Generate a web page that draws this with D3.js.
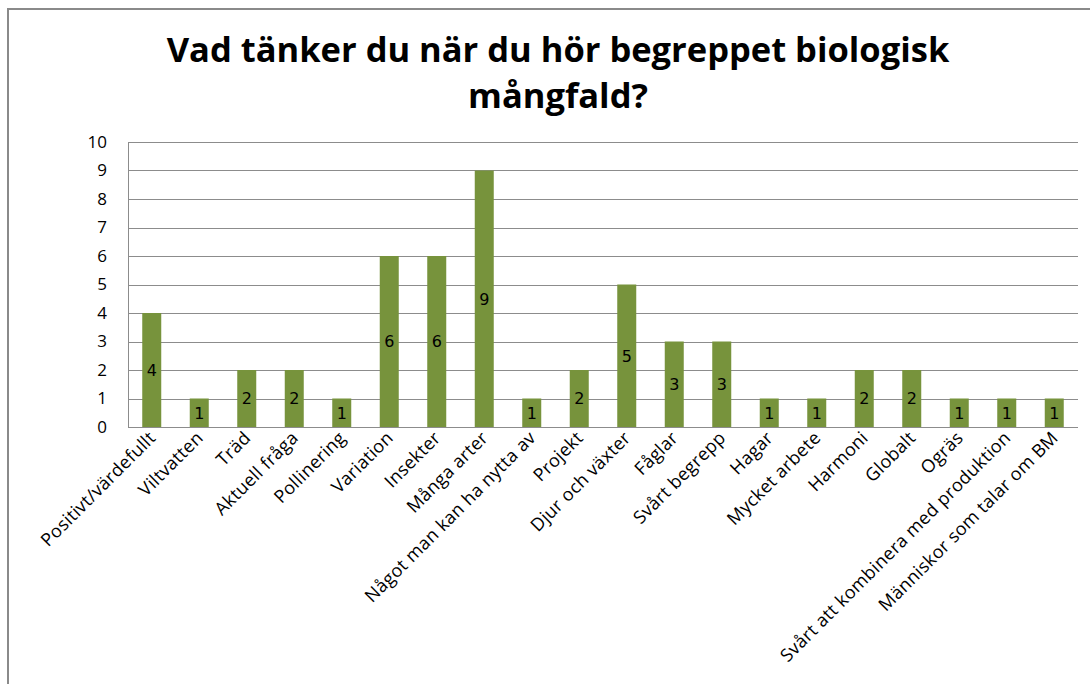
<!DOCTYPE html>
<html>
<head>
<meta charset="utf-8">
<script src="https://cdn.jsdelivr.net/npm/d3@7"></script>
<style>
  body { margin: 0; background: #fff; }
  svg { display: block; }
  .axis text { font-family: "Open Sans", sans-serif; fill: #000; }
</style>
</head>
<body>
<div id="chart"></div>
<script>
// chart data
const categories = [
  'Positivt/värdefullt', 'Viltvatten', 'Träd', 'Aktuell fråga', 'Pollinering',
  'Variation', 'Insekter', 'Många arter', 'Något man kan ha nytta av', 'Projekt',
  'Djur och växter', 'Fåglar', 'Svårt begrepp', 'Hagar', 'Mycket arbete',
  'Harmoni', 'Globalt', 'Ogräs', 'Svårt att kombinera med produktion', 'Människor som talar om BM'
];
const values = [4, 1, 2, 2, 1, 6, 6, 9, 1, 2, 5, 3, 3, 1, 1, 2, 2, 1, 1, 1];
const yTicks = [0, 1, 2, 3, 4, 5, 6, 7, 8, 9, 10];
const titleLines = ['Vad tänker du när du hör begreppet biologisk', 'mångfald?'];

(function(d3) {
  const W = 1090, H = 684;
  const margin = { top: 142, right: 12, bottom: 257, left: 128 };
  const width = W - margin.left - margin.right;
  const height = H - margin.top - margin.bottom;

  const svg = d3.select('#chart').append('svg')
    .attr('width', W)
    .attr('height', H);

  // outer frame
  svg.append('rect')
    .attr('x', 8).attr('y', 9)
    .attr('width', W + 20).attr('height', H + 20)
    .attr('fill', 'none')
    .attr('stroke', '#8a8a8a')
    .attr('stroke-width', 2);

  // title
  const title = svg.append('text')
    .attr('text-anchor', 'middle')
    .style('font-family', '"Open Sans", sans-serif')
    .style('font-weight', 'bold')
    .style('font-size', '34.5px')
    .attr('fill', '#000');
  title.selectAll('tspan')
    .data(titleLines)
    .enter()
    .append('tspan')
    .attr('x', 558)
    .attr('y', (d, i) => 62 + i * 46)
    .text(d => d);

  const g = svg.append('g').attr('transform', `translate(${margin.left},${margin.top})`);

  const x = d3.scaleBand().domain(categories).range([0, width]).paddingInner(0.6).paddingOuter(0.3);
  const y = d3.scaleLinear().domain([0, 10]).range([height, 0]);

  // gridlines
  g.append('g')
    .selectAll('line')
    .data(yTicks.slice(1))
    .enter()
    .append('line')
    .attr('x1', 0).attr('x2', width)
    .attr('y1', d => Math.round(y(d)) + 0.5)
    .attr('y2', d => Math.round(y(d)) + 0.5)
    .attr('stroke', '#8c8c8c')
    .attr('stroke-width', 1);

  // y axis
  const yAxis = d3.axisLeft(y).tickValues(yTicks).tickSize(0).tickPadding(21);
  const yAxisG = g.append('g').attr('class', 'axis').call(yAxis);
  yAxisG.select('.domain').remove();
  yAxisG.selectAll('text').style('font-size', '17px');

  // bars
  g.selectAll('.bar')
    .data(values)
    .enter()
    .append('rect')
    .attr('class', 'bar')
    .attr('x', (d, i) => x(categories[i]))
    .attr('y', d => y(d))
    .attr('width', x.bandwidth())
    .attr('height', d => height - y(d))
    .attr('fill', '#77933c');

  // value labels
  g.selectAll('.val')
    .data(values)
    .enter()
    .append('text')
    .attr('class', 'val')
    .attr('x', (d, i) => x(categories[i]) + x.bandwidth() / 2)
    .attr('y', d => y(d / 2))
    .attr('dy', '0.36em')
    .attr('text-anchor', 'middle')
    .style('font-family', '"DejaVu Sans", sans-serif')
    .style('font-size', '16px')
    .attr('fill', '#000')
    .text(d => d);

  // axis lines
  g.append('line')
    .attr('x1', 0.5).attr('x2', 0.5)
    .attr('y1', 0).attr('y2', height)
    .attr('stroke', '#8c8c8c');
  g.append('line')
    .attr('x1', 0).attr('x2', width)
    .attr('y1', Math.round(height) + 0.5).attr('y2', Math.round(height) + 0.5)
    .attr('stroke', '#8c8c8c');

  // x axis labels
  const xAxisG = g.append('g')
    .attr('class', 'axis')
    .attr('transform', `translate(0,${height})`)
    .call(d3.axisBottom(x).tickSize(0).tickPadding(0));
  xAxisG.select('.domain').remove();
  xAxisG.selectAll('text')
    .style('font-size', '18px')
    .style('letter-spacing', '0.3px')
    .style('text-anchor', 'end')
    .attr('dy', 0)
    .attr('transform', 'translate(5,12) rotate(-45)');
})(d3);
</script>
</body>
</html>
